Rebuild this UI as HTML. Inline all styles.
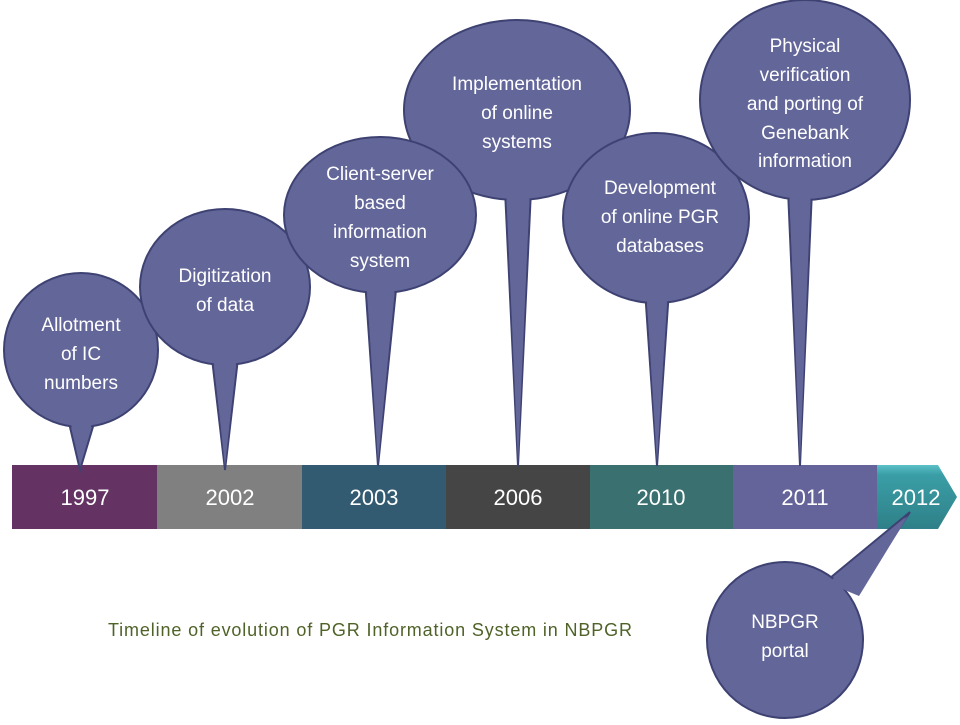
<!DOCTYPE html>
<html><head><meta charset="utf-8"><style>
body{margin:0;background:#fff;width:960px;height:720px;overflow:hidden}
text{font-family:"Liberation Sans",sans-serif;}
</style></head><body>
<svg width="960" height="720" viewBox="0 0 960 720" xmlns="http://www.w3.org/2000/svg">
<defs>
<linearGradient id="tg" x1="0" y1="0" x2="0" y2="1"><stop offset="0" stop-color="#5cc0c8"/><stop offset="0.15" stop-color="#3a9ea6"/><stop offset="1" stop-color="#2f8088"/></linearGradient>
</defs>
<rect x="12" y="465" width="146" height="64" fill="#643364"/>
<rect x="157" y="465" width="146" height="64" fill="#808080"/>
<rect x="302" y="465" width="145" height="64" fill="#325a70"/>
<rect x="446" y="465" width="145" height="64" fill="#454545"/>
<rect x="590" y="465" width="144" height="64" fill="#3a7070"/>
<rect x="733" y="465" width="145" height="64" fill="#64649a"/>
<polygon points="877,465 938,465 957,497 938,529 877,529" fill="url(#tg)"/>
<g fill="#fff" font-size="22" text-anchor="middle">
<text x="85" y="505">1997</text><text x="230" y="505">2002</text><text x="374" y="505">2003</text>
<text x="518" y="505">2006</text><text x="661" y="505">2010</text><text x="805" y="505">2011</text><text x="916" y="505">2012</text>
</g>
<g fill="#636699" stroke="#3e4272" stroke-width="2">
<polygon points="66,410 98,410 80,470"/><ellipse cx="81" cy="350" rx="77" ry="77"/><polygon points="67,405 97,405 80,466" stroke="none"/>
<polygon points="211,350 239,350 225,470"/><ellipse cx="225" cy="287" rx="85" ry="78"/><polygon points="212,345 238,345 225,466" stroke="none"/>
<polygon points="505,190 531,190 518,466"/><ellipse cx="517" cy="110" rx="113" ry="90"/><polygon points="506,185 530,185 518,462" stroke="none"/>
<polygon points="365,280 397,280 378,466"/><ellipse cx="380" cy="215" rx="96" ry="78"/><polygon points="366,275 396,275 378,462" stroke="none"/>
<polygon points="645,290 669,290 657,466"/><ellipse cx="656" cy="218" rx="93" ry="85"/><polygon points="646,285 668,285 657,462" stroke="none"/>
<polygon points="788,190 812,190 800,466"/><ellipse cx="805" cy="100" rx="105" ry="100"/><polygon points="789,185 811,185 800,462" stroke="none"/>
<polygon points="830,578 858,592 910,512"/><ellipse cx="785" cy="640" rx="78" ry="78"/><polygon points="828,583 859,596 908,516" stroke="none"/>
</g>
<g fill="#fff" font-size="19" text-anchor="middle">
<text x="81" y="331">Allotment</text><text x="81" y="360">of IC</text><text x="81" y="389">numbers</text>
<text x="225" y="282">Digitization</text><text x="225" y="311">of data</text>
<text x="380" y="180">Client-server</text><text x="380" y="209">based</text><text x="380" y="238">information</text><text x="380" y="267">system</text>
<text x="517" y="90">Implementation</text><text x="517" y="119">of online</text><text x="517" y="148">systems</text>
<text x="660" y="194">Development</text><text x="660" y="223">of online PGR</text><text x="660" y="252">databases</text>
<text x="805" y="52">Physical</text><text x="805" y="81">verification</text><text x="805" y="110">and porting of</text><text x="805" y="139">Genebank</text><text x="805" y="167">information</text>
<text x="785" y="628">NBPGR</text><text x="785" y="657">portal</text>
</g>
<text x="108" y="636" font-size="18" fill="#4f6228" textLength="524" lengthAdjust="spacing">Timeline of evolution of PGR Information System in NBPGR</text>
</svg>
</body></html>
